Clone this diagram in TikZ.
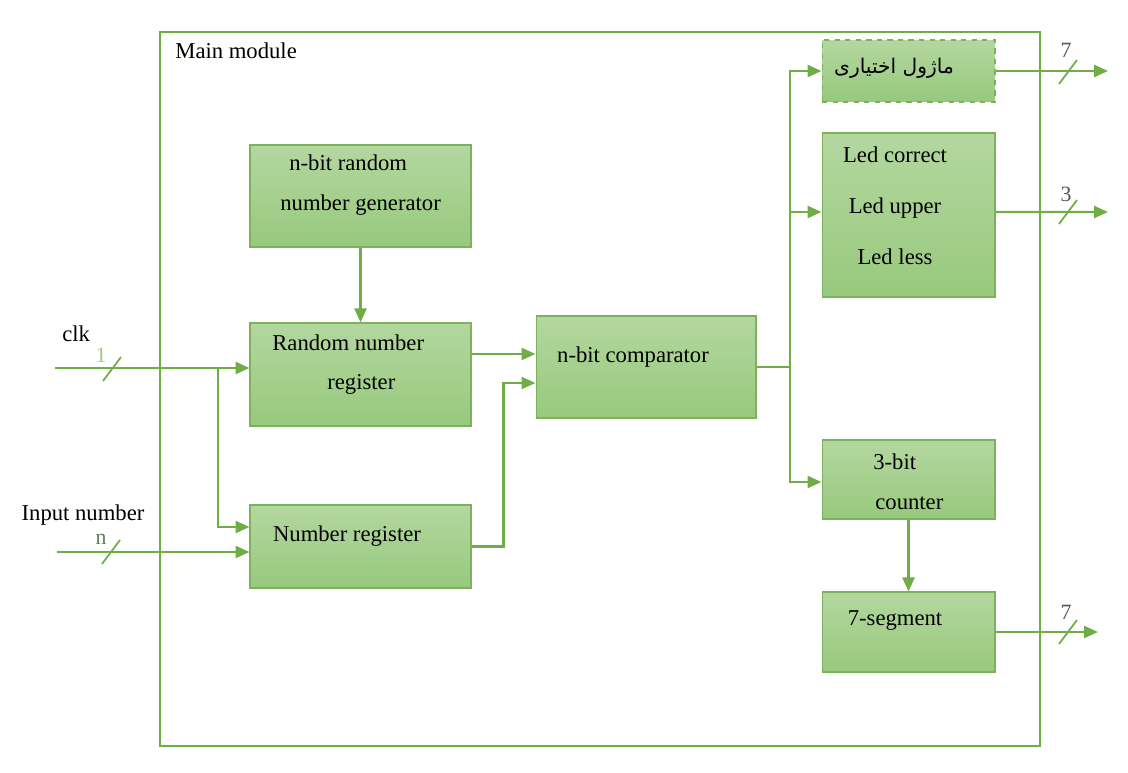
\documentclass[tikz,border=0pt]{standalone}
\usepackage{fontspec}
\setmainfont{Liberation Serif}
\newfontfamily\persianfont[Script=Arabic]{DejaVu Sans}
\TeXXeTstate=1
\usetikzlibrary{arrows.meta,calc,positioning}

\definecolor{wirecol}{HTML}{70AD47}
\definecolor{boxtop}{HTML}{B4D7A0}
\definecolor{boxbot}{HTML}{97C97D}
\definecolor{boxedge}{HTML}{7DB25D}
\definecolor{onecol}{HTML}{9BCF79}
\definecolor{ncol}{HTML}{5E7F5E}
\definecolor{buscol}{HTML}{555555}

\tikzset{
  blk/.style={draw=boxedge, line width=0.6pt, top color=boxtop, bottom color=boxbot, inner sep=0pt},
  txt/.style={font=\fontsize{12.9}{15}\selectfont, inner sep=0pt, align=center},
  wire/.style={draw=wirecol, line width=1.4pt},
  sig/.style={wire, -{Triangle[length=0.28cm, width=0.24cm]}},
  slashline/.style={draw=wirecol, line width=1pt},
  buslbl/.style={font=\fontsize{12.4}{14}\selectfont, inner sep=0pt, text=buscol},
}
\newcommand{\busslash}[1]{\draw[slashline] ($(#1)+(-9,12)$) -- ($(#1)+(9,-12)$);}

\begin{document}
\begin{tikzpicture}[x=0.02cm, y=-0.02cm]
  \useasboundingbox (0,0) rectangle (1128,773);

  % Main module frame
  \node[draw=wirecol, line width=1.1pt, minimum width=17.6cm, minimum height=14.28cm, inner sep=0pt] (main) at (600,389) {};
  \node[txt, anchor=west] (maintxt) at (175,51) {Main module};

  % Blocks
  \node[blk, minimum width=4.42cm, minimum height=2.04cm] (gen) at (360.5,196) {};
  \node[blk, minimum width=4.42cm, minimum height=2.06cm] (rr) at (360.5,374.5) {};
  \node[blk, minimum width=4.42cm, minimum height=1.66cm] (nr) at (360.5,546.5) {};
  \node[blk, minimum width=4.40cm, minimum height=2.04cm] (cmp) at (646,367) {};
  \node[blk, dashed, minimum width=3.46cm, minimum height=1.24cm] (opt) at (908.5,71) {};
  \node[blk, minimum width=3.46cm, minimum height=3.28cm] (led) at (908.5,215) {};
  \node[blk, minimum width=3.46cm, minimum height=1.58cm] (cnt) at (908.5,479.5) {};
  \node[blk, minimum width=3.46cm, minimum height=1.60cm] (seg) at (908.5,632) {};

  % Block texts
  \node[txt, align=left, anchor=west, font=\fontsize{12.9}{22.7}\selectfont] (gentxt) at (280,185) {\hspace*{0.18cm}n-bit random\\number generator};
  \node[txt, align=left, anchor=west, font=\fontsize{12.9}{22.2}\selectfont] (rrtxt) at (272,364.5) {Random number\\\hspace*{1.1cm}register};
  \node[txt] (nrtxt) at (347,536) {Number register};
  \node[txt] (cmptxt) at (633,357) {n-bit comparator};
  \node[txt, font=\fontsize{11.5}{14}\persianfont] (opttxt) at (894,68) {\beginR ماژول اختیاری\endR};
  \node[txt, font=\fontsize{12.9}{28.9}\selectfont] (ledtxt) at (895,206) {Led correct\\Led upper\\Led less};
  \node[txt, align=left, anchor=west, font=\fontsize{12.9}{22.7}\selectfont] (cnttxt) at (873,482) {3-bit\\\hspace*{0.04cm}counter};
  \node[txt] (segtxt) at (895,621) {7-segment};

  % Inputs
  \node[txt, anchor=west] (clklbl) at (62,334) {clk};
  \node[txt] (inlbl) at (83,515) {Input number};
  \coordinate (clkin) at (55,368);
  \coordinate (inin) at (57,552);
  \coordinate (clkfork) at (218,368);
  \coordinate (clkbr) at (218,527);
  \coordinate (clkbus) at (112,369);
  \coordinate (inbus) at (111,552);

  \draw[sig] (clkin) -- (clkin -| rr.west);
  \draw[sig] (clkfork) -- (clkbr) -- (clkbr -| nr.west);
  \draw[sig] (inin) -- (inin -| nr.west);
  \busslash{clkbus}
  \busslash{inbus}
  \node[buslbl, text=onecol] (onelbl) at (101,355) {1};
  \node[buslbl, text=ncol] (nlbl) at (101,539) {n};

  % Internal connections
  \draw[sig] (gen.south) -- (rr.north);
  \draw[sig] ([yshift=0.41cm]rr.east) -- ([yshift=0.41cm]rr.east -| cmp.west);
  \draw[sig] (nr.east) -- ++(32,0) |- ([yshift=-0.32cm]cmp.west);

  \coordinate (fork) at (cmp.east -| 790,0);
  \draw[wire] (cmp.east) -- (fork);
  \draw[sig] (fork) |- (opt.west);
  \draw[sig] (fork) |- ([yshift=0.06cm]led.west);
  \draw[sig] (fork) |- ([yshift=-0.05cm]cnt.west);
  \draw[sig] (cnt.south) -- (seg.north);

  % Outputs
  \coordinate (optout) at (1108,71);
  \coordinate (ledout) at (1108,212);
  \coordinate (segout) at (1098,632);
  \coordinate (optbus) at (1068,72);
  \coordinate (ledbus) at (1068,212);
  \coordinate (segbus) at (1068,632);

  \draw[sig] (opt.east) -- (optout);
  \draw[sig] ([yshift=0.06cm]led.east) -- (ledout);
  \draw[sig] (seg.east) -- (segout);
  \busslash{optbus}
  \busslash{ledbus}
  \busslash{segbus}
  \node[buslbl] (optlbl) at (1066,50) {7};
  \node[buslbl] (ledlbl) at (1066,194) {3};
  \node[buslbl] (seglbl) at (1066,612) {7};
\end{tikzpicture}
\end{document}
